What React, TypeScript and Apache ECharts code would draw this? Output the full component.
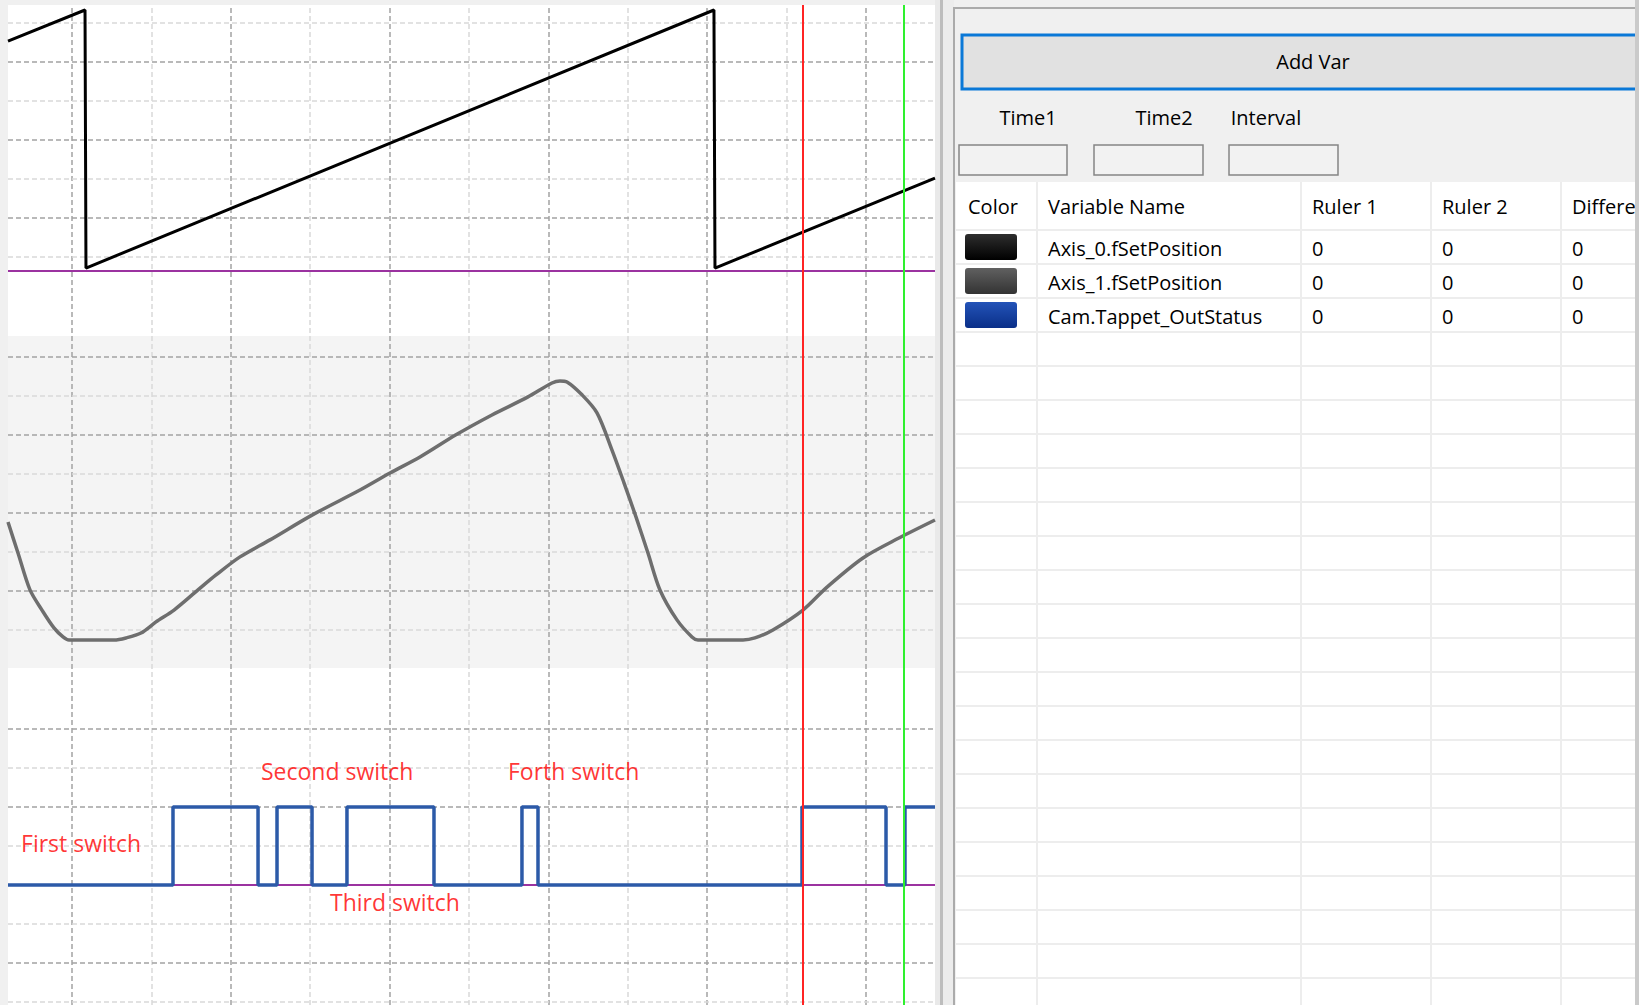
import React, { useEffect, useRef } from "react";
import * as echarts from "echarts";

const FONT = "'Open Sans', 'Noto Sans', sans-serif";

// ---------------- data ----------------
// time axis (one scope division = 100 units)
const T_MIN = 19.4;
const T_MAX = 1186.9;
const timeGridTicks = [100, 200, 300, 400, 500, 600, 700, 800, 900, 1000, 1100];

// Axis_0.fSetPosition (sawtooth)
const axis0Time = [19.4, 116.4, 117.6, 908.5, 909.8, 1186.9];
const axis0Pos = [317, 360, 4, 360, 4, 128];

// Axis_1.fSetPosition (cam follower)
const axis1Time = [
  19.4, 32.0, 47.1, 62.2, 77.3, 88.7, 96.2, 152.9, 168.0, 186.9, 205.8, 228.5, 258.7, 281.4,
  311.6, 349.4, 402.3, 462.7, 500.5, 538.3, 583.6, 628.9, 674.3, 704.5, 714.6, 723.4, 742.3,
  761.2, 780.1, 795.2, 810.3, 825.4, 840.5, 861.9, 880.8, 888.4, 945.1, 960.1, 982.8, 1020.6,
  1050.9, 1096.2, 1141.5, 1186.9,
];
const axis1Pos = [
  45.7, 33.7, 19.4, 11.6, 4.7, 1.2, 0, 0, 0.8, 2.7, 7.0, 11.6, 19.4, 25.2,
  32.2, 38.8, 48.4, 58.1, 64.7, 70.9, 79.5, 87.2, 94.2, 99.6, 100.4, 100.0, 95.0,
  88.0, 73.6, 60.9, 47.7, 33.7, 19.4, 7.8, 1.2, 0, 0, 0.8, 3.9, 11.6,
  20.5, 31.8, 39.5, 46.5,
];

// Cam.Tappet_OutStatus (state changes)
const camTime = [19.4, 227.2, 334.3, 358.2, 402.3, 446.3, 555.9, 666.7, 686.9, 1019.4, 1125.2, 1149.1, 1186.9];
const camState = [0, 1, 0, 1, 0, 1, 0, 1, 0, 1, 0, 1, 1];

// annotations
const switchLabels = ["First switch", "Second switch", "Third switch", "Forth switch"];
const switchLabelTime = [35.8, 338.0, 424.9, 649.1];
const switchLabelLevel = [0.54, 1.46, -0.22, 1.46];

// rulers
const ruler1Time = 1020.6;
const ruler2Time = 1147.8;

// scope grid divisions per panel
const topDivisions = [0, 1, 2, 3, 4, 5, 6];
const midDivisions = [0, 1, 2, 3, 4, 5, 6, 7];
const botDivisions = [0, 1, 2, 3, 4, 5, 6, 7];

// side panel
const timeFieldLabels = ["Time1", "Time2", "Interval"];
const tableHeaders = ["Color", "Variable Name", "Ruler 1", "Ruler 2", "Difference"];
const varNames = ["Axis_0.fSetPosition", "Axis_1.fSetPosition", "Cam.Tappet_OutStatus"];
const ruler1Values = [0, 0, 0];
const ruler2Values = [0, 0, 0];
const diffValues = [0, 0, 0];

// ---------------- styles ----------------
const DARK = "#a2a2a2";
const LIGHT = "#d9d9d9";
const DASH = [5, 3];
const swatchStops = [
  ["#2e2e2e", "#000000"],
  ["#606060", "#333333"],
  ["#2353b8", "#0a2f88"],
];

function gridLineSeries(xi: number, yi: number, key: "xAxis" | "yAxis", values: number[], isDark: (v: number) => boolean) {
  return {
    type: "line",
    xAxisIndex: xi,
    yAxisIndex: yi,
    data: [],
    silent: true,
    z: 1,
    markLine: {
      silent: true,
      symbol: ["none", "none"],
      z: 1,
      animation: false,
      label: { show: false },
      emphasis: { disabled: true },
      data: values.map((v) => ({
        [key]: v,
        lineStyle: { color: isDark(v) ? DARK : LIGHT, type: DASH, width: 1.5 },
      })),
    },
  };
}

function rect(x: number, y: number, w: number, h: number, style: any, z = 1) {
  return { type: "rect", shape: { x, y, width: w, height: h }, style, z, silent: true };
}
function hline(x1: number, x2: number, y: number, stroke: string, w: number, z = 2) {
  return { type: "line", shape: { x1, y1: y, x2, y2: y }, style: { stroke, lineWidth: w }, z, silent: true };
}
function vline(x: number, y1: number, y2: number, stroke: string, w: number, z = 2) {
  return { type: "line", shape: { x1: x, y1, x2: x, y2 }, style: { stroke, lineWidth: w }, z, silent: true };
}
function text(x: number, y: number, t: string, align = "left", size = 20, fill = "#000", z = 5) {
  return {
    type: "text",
    x,
    y,
    z,
    silent: true,
    style: { text: t, fill, fontSize: size, fontFamily: FONT, align, verticalAlign: "middle" },
  };
}

function buildPanel() {
  const els: any[] = [];
  // splitter
  els.push(rect(935, 0, 5, 1005, { fill: "#e9e9e9" }));
  els.push(rect(940, 0, 3, 1005, { fill: "#bdbdbd" }));
  els.push(rect(943, 0, 11, 1005, { fill: "#ececec" }));
  // frame
  els.push(rect(954, 8, 690, 1010, { fill: "#f0f0f0", stroke: "#ababab", lineWidth: 2 }));
  // Add Var button
  els.push(rect(962, 35, 700, 54, { fill: "#e1e1e1", stroke: "#0a78d7", lineWidth: 3 }, 2));
  els.push(text(1313, 61, "Add Var", "center"));
  // time fields
  const labelX = [1028, 1164, 1266];
  const boxX = [959, 1094, 1229];
  const boxW = [108, 109, 109];
  timeFieldLabels.forEach((l, i) => {
    els.push(text(labelX[i], 117, l, "center"));
    els.push(rect(boxX[i], 145, boxW[i], 30, { fill: "#f2f2f2", stroke: "#858585", lineWidth: 1.5 }, 2));
  });
  // table
  els.push(rect(956, 182, 690, 830, { fill: "#ffffff" }, 2));
  for (let k = 0; k <= 23; k++) {
    els.push(hline(956, 1640, 230 + 34 * k, "#ededed", 2, 3));
  }
  [1037, 1301, 1431, 1561].forEach((x) => els.push(vline(x, 182, 1005, "#ededed", 2, 3)));
  const colX = [968, 1048, 1312, 1442, 1572];
  tableHeaders.forEach((h, i) => els.push(text(colX[i], 206, h)));
  varNames.forEach((name, r) => {
    const cy = 247 + 34 * r;
    els.push({
      type: "rect",
      shape: { x: 965, y: cy - 13, width: 52, height: 26, r: 3 },
      style: {
        fill: new echarts.graphic.LinearGradient(0, 0, 0, 1, [
          { offset: 0, color: swatchStops[r][0] },
          { offset: 1, color: swatchStops[r][1] },
        ]),
      },
      z: 4,
      silent: true,
    });
    els.push(text(colX[1], cy + 1, name));
    els.push(text(colX[2], cy + 1, String(ruler1Values[r])));
    els.push(text(colX[3], cy + 1, String(ruler2Values[r])));
    els.push(text(colX[4], cy + 1, String(diffValues[r])));
  });
  // right edge
  els.push(rect(1635, 0, 4, 1005, { fill: "#cacaca" }, 50));
  return els;
}

function buildOption() {
  const xAxes = [0, 1, 2, 3].map((g) => ({ type: "value", gridIndex: g, min: T_MIN, max: T_MAX, show: false }));
  const yAxes = [
    { type: "value", gridIndex: 0, min: 0, max: 1, show: false },
    { type: "value", gridIndex: 1, min: -89.7, max: 366.9, show: false },
    { type: "value", gridIndex: 1, min: -2.026, max: 6.462, show: false },
    { type: "value", gridIndex: 2, min: -10.85, max: 117.8, show: false },
    { type: "value", gridIndex: 2, min: -0.974, max: 7.538, show: false },
    { type: "value", gridIndex: 3, min: -1.538, max: 2.782, show: false },
    { type: "value", gridIndex: 3, min: -0.077, max: 8.564, show: false },
  ];
  const lineBase = { type: "line", showSymbol: false, symbol: "none", silent: true, emphasis: { disabled: true } };

  return {
    animation: false,
    backgroundColor: "#f0f0f0",
    grid: [
      { left: 8, top: 5, width: 927, height: 1000, show: true, backgroundColor: "#ffffff", borderWidth: 0 },
      { left: 8, top: 5, width: 927, height: 331, show: false },
      { left: 8, top: 336, width: 927, height: 332, show: true, backgroundColor: "#f4f4f4", borderWidth: 0 },
      { left: 8, top: 668, width: 927, height: 337, show: false },
    ],
    xAxis: xAxes,
    yAxis: yAxes,
    series: [
      gridLineSeries(0, 0, "xAxis", timeGridTicks, (v) => (v / 100) % 2 === 1),
      gridLineSeries(1, 2, "yAxis", topDivisions, (v) => v % 2 === 1),
      gridLineSeries(2, 4, "yAxis", midDivisions, (v) => v % 2 === 1),
      gridLineSeries(3, 6, "yAxis", botDivisions, (v) => v % 2 === 1),
      {
        ...lineBase,
        xAxisIndex: 1,
        yAxisIndex: 1,
        z: 2,
        data: [[T_MIN, 0], [T_MAX, 0]],
        lineStyle: { color: "#9b32a0", width: 2 },
      },
      {
        ...lineBase,
        xAxisIndex: 3,
        yAxisIndex: 5,
        z: 2,
        data: [[T_MIN, 0], [T_MAX, 0]],
        lineStyle: { color: "#9b32a0", width: 2 },
      },
      {
        ...lineBase,
        name: varNames[0],
        xAxisIndex: 1,
        yAxisIndex: 1,
        z: 3,
        data: axis0Time.map((t, i) => [t, axis0Pos[i]]),
        lineStyle: { color: "#000000", width: 3 },
      },
      {
        ...lineBase,
        name: varNames[1],
        xAxisIndex: 2,
        yAxisIndex: 3,
        z: 3,
        smooth: 0.3,
        data: axis1Time.map((t, i) => [t, axis1Pos[i]]),
        lineStyle: { color: "#6e6e6e", width: 3.5 },
      },
      {
        ...lineBase,
        name: varNames[2],
        xAxisIndex: 3,
        yAxisIndex: 5,
        z: 3,
        step: "end",
        data: camTime.map((t, i) => [t, camState[i]]),
        lineStyle: { color: "#2c5aa8", width: 3.5 },
      },
      {
        type: "scatter",
        xAxisIndex: 3,
        yAxisIndex: 5,
        z: 4,
        silent: true,
        symbolSize: 1,
        itemStyle: { color: "rgba(0,0,0,0)" },
        emphasis: { disabled: true },
        data: switchLabels.map((name, i) => ({ name, value: [switchLabelTime[i], switchLabelLevel[i]] })),
        label: {
          show: true,
          position: "inside",
          align: "left",
          verticalAlign: "middle",
          formatter: "{b}",
          color: "#ff0000",
          fontSize: 23,
          fontFamily: FONT,
        },
      },
      {
        type: "line",
        xAxisIndex: 0,
        yAxisIndex: 0,
        data: [],
        silent: true,
        z: 6,
        markLine: {
          silent: true,
          symbol: ["none", "none"],
          z: 6,
          animation: false,
          label: { show: false },
          emphasis: { disabled: true },
          data: [
            { xAxis: ruler1Time, lineStyle: { color: "#ff2424", type: "solid", width: 2 } },
            { xAxis: ruler2Time, lineStyle: { color: "#2ef02e", type: "solid", width: 2 } },
          ],
        },
      },
    ],
    graphic: { elements: buildPanel() },
  };
}

export default function App() {
  const ref = useRef<HTMLDivElement>(null);
  useEffect(() => {
    const chart = echarts.init(ref.current as HTMLDivElement, undefined, { renderer: "svg" });
    chart.setOption(buildOption() as any);
    return () => chart.dispose();
  }, []);
  return <div ref={ref} style={{ position: "fixed", left: 0, top: 0, width: 1639, height: 1005 }} />;
}
